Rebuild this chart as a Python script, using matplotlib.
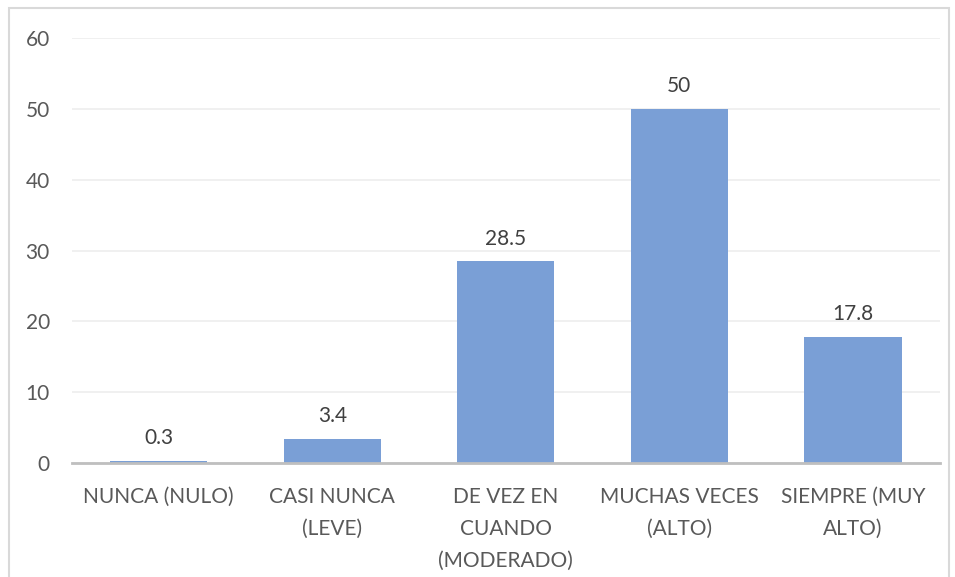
import matplotlib.pyplot as plt
from matplotlib.patches import Rectangle

categories = ["NUNCA (NULO)", "CASI NUNCA\n(LEVE)", "DE VEZ EN\nCUANDO\n(MODERADO)",
              "MUCHAS VECES\n(ALTO)", "SIEMPRE (MUY\nALTO)"]
values = [0.3, 3.4, 28.5, 50, 17.8]
labels = ["0.3", "3.4", "28.5", "50", "17.8"]

plt.rcParams['font.family'] = ['Lato', 'DejaVu Sans']
text_color = "#595959"

fig = plt.figure(figsize=(9.55, 5.77), dpi=100)
ax = fig.add_axes([0.0754, 0.1976, 0.9086, 0.7364])

x = range(len(categories))
bars = ax.bar(x, values, width=0.56, color="#7A9FD6", zorder=3)
for b, lab in zip(bars, labels):
    ax.annotate(lab, (b.get_x() + b.get_width() / 2, b.get_height()),
                xytext=(0, 9), textcoords="offset points", ha="center", va="bottom",
                fontsize=15, color="#404040")

ax.set_xlim(-0.5, len(categories) - 0.5)
ax.set_ylim(0, 60)
ax.set_yticks(range(0, 61, 10))
ax.set_xticks(list(x))
ax.set_xticklabels(categories, fontsize=15, color=text_color, linespacing=1.75)
ax.tick_params(axis="y", labelsize=15, labelcolor=text_color, length=0, pad=16)
ax.tick_params(axis="x", length=0, pad=17)

ax.grid(axis="y", color="#EEEEEE", linewidth=1.2, zorder=0)
for s in ["top", "right", "left"]:
    ax.spines[s].set_visible(False)
ax.spines["bottom"].set_color("#BFBFBF")
ax.spines["bottom"].set_linewidth(2)
ax.spines["bottom"].set_zorder(4)

fig.patches.append(Rectangle((0.009, -0.01), 0.985, 0.996, transform=fig.transFigure,
                             fill=False, edgecolor="#D9D9D9", linewidth=1.5))

plt.savefig("out.png", dpi=100)
